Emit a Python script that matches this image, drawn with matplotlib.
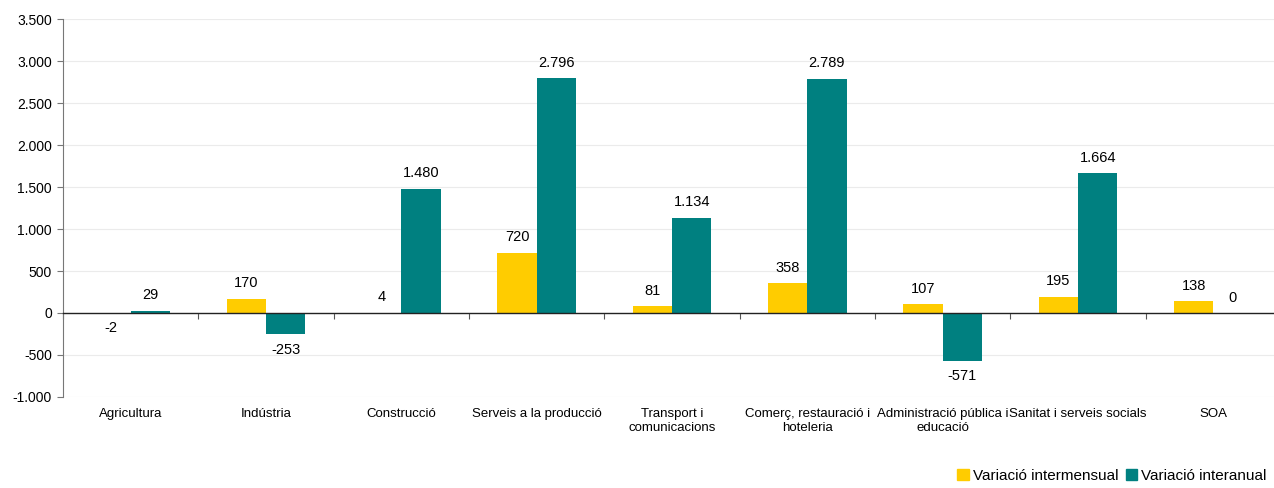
import matplotlib.pyplot as plt
import matplotlib.transforms as mtransforms
from matplotlib.patches import Patch
import numpy as np

plt.rcParams['font.family'] = ['Liberation Sans', 'DejaVu Sans']

categories = ["Agricultura", "Indústria", "Construcció", "Serveis a la producció",
              "Transport i\ncomunicacions", "Comerç, restauració i\nhoteleria",
              "Administració pública i\neducació", "Sanitat i serveis socials", "SOA"]
intermensual = [-2, 170, 4, 720, 81, 358, 107, 195, 138]
interanual = [29, -253, 1480, 2796, 1134, 2789, -571, 1664, 0]
series_names = ["Variació intermensual", "Variació interanual"]
yticks = [-1000, -500, 0, 500, 1000, 1500, 2000, 2500, 3000, 3500]

YELLOW = "#FFCC00"
TEAL = "#008080"


def fmt(v):
    return f"{v:,}".replace(",", ".")


fig = plt.figure(figsize=(12.74, 4.88), dpi=100)
ax = fig.add_axes([0.0495, 0.1865, 0.956, 0.7745])

x = np.arange(len(categories))
w = 0.29
b1 = ax.bar(x - w / 2, intermensual, w, color=YELLOW, label=series_names[0])
b2 = ax.bar(x + w / 2, interanual, w, color=TEAL, label=series_names[1])

for bars, vals in ((b1, intermensual), (b2, interanual)):
    for rect, v in zip(bars, vals):
        cx = rect.get_x() + rect.get_width() / 2
        if v < 0:
            ax.annotate(fmt(v), (cx, v), xytext=(0, -6), textcoords="offset points",
                        ha="center", va="top", fontsize=10.5)
        else:
            ax.annotate(fmt(v), (cx, v), xytext=(0, 6), textcoords="offset points",
                        ha="center", va="bottom", fontsize=10.5)

ax.set_xlim(-0.5, len(categories) - 0.5)
ax.set_ylim(-1000, 3500)
ax.set_yticks(yticks)
ax.set_yticklabels([fmt(t) for t in yticks], fontsize=10)
ax.yaxis.grid(True, color="#ebebeb", linewidth=0.8)
ax.set_axisbelow(True)

for s in ("top", "right"):
    ax.spines[s].set_visible(False)
ax.spines["left"].set_color("#777777")
ax.spines["bottom"].set_position(("data", 0))
ax.spines["bottom"].set_color("#222222")
ax.spines["bottom"].set_linewidth(1.0)

ax.set_xticks(np.arange(len(categories) + 1) - 0.5)
ax.set_xticklabels([])
ax.tick_params(axis="x", direction="out", length=4, color="#555555")
ax.tick_params(axis="y", direction="out", length=4, color="#777777", pad=4)

trans = mtransforms.blended_transform_factory(ax.transData, ax.transAxes)
for i, c in enumerate(categories):
    ax.text(i, -0.03, c, transform=trans, ha="center", va="top", fontsize=9.5,
            linespacing=1.15)

handles = [Patch(color=YELLOW), Patch(color=TEAL)]
fig.legend(handles, series_names, loc="lower right", bbox_to_anchor=(1.0, -0.005),
           ncol=2, frameon=False, fontsize=11, handlelength=0.75, handleheight=0.75,
           handletextpad=0.25, columnspacing=0.5, borderaxespad=0.1)

fig.savefig("out.png", dpi=100)
